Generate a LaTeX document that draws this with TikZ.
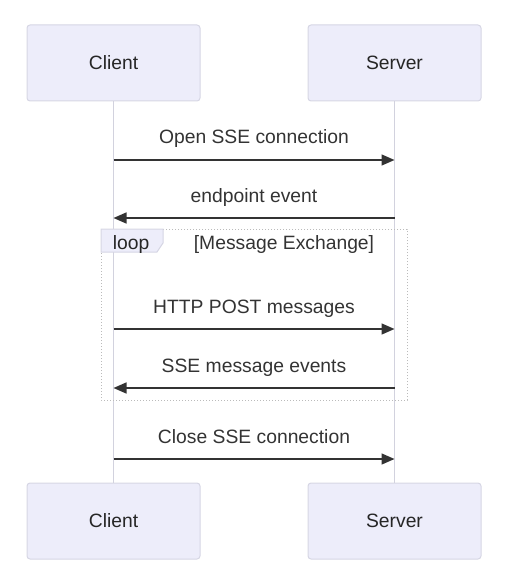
\documentclass[tikz,border=0pt]{standalone}
\usepackage{fontspec}
\setmainfont{Liberation Sans}
\usetikzlibrary{arrows.meta,positioning}

\definecolor{actorfill}{HTML}{EDEDFA}
\definecolor{actorline}{HTML}{D6D6E4}
\definecolor{lifeline}{HTML}{D2D2DE}
\definecolor{msgline}{HTML}{333333}
\definecolor{loopline}{HTML}{BBBBBB}

\begin{document}
\begin{tikzpicture}[
        x=1pt, y=-1pt,
        node distance=1mm,
        font=\fontsize{19.3}{23}\selectfont,
        actor/.style={
            rectangle,
            draw=actorline,
            fill=actorfill,
            line width=1pt,
            rounded corners=3pt,
            minimum width=173pt,
            minimum height=76pt,
            text=black!85,
        },
        life/.style={
            draw=lifeline,
            line width=1.5pt,
        },
        msg/.style={
            draw=msgline,
            line width=1.5pt,
            -{Triangle[length=13pt,width=11pt]},
        },
        lbl/.style={
            anchor=base,
            yshift=16pt,
            inner sep=0pt,
            text=msgline,
        },
        loopframe/.style={
            draw=loopline,
            line width=1pt,
            dotted,
        },
        looptag/.style={
            draw=actorline,
            fill=actorfill,
            line width=1pt,
        },
    ]
        \useasboundingbox (0,0) rectangle (528,585);

        \node [actor] (client) at (113.5,63) {Client};
        \node [actor, right=107pt of client] (server) {Server};
        \node [actor, below=381pt of client] (clientb) {Client};
        \node [actor, below=381pt of server] (serverb) {Server};

        \draw [life] (client.south) -- (clientb.north);
        \draw [life] (server.south) -- (serverb.north);

        % loop frame
        \draw [loopframe] (101,229) rectangle (407,400);
        \draw [looptag] (101,229) -- (163,229) -- (163,243) -- (157,252) -- (101,252) -- cycle;
        \node [anchor=base, inner sep=0pt, text=black!85] (looplbl) at (131,249) {loop};
        \node [anchor=base, inner sep=0pt, text=msgline] (loopcond) at (284,249) {[Message Exchange]};

        % messages
        \draw [msg] (client |- 0,160) -- node [lbl] (m1) {Open SSE connection} (server |- 0,160);
        \draw [msg] (server |- 0,218) -- node [lbl] (m2) {endpoint event} (client |- 0,218);
        \draw [msg] (client |- 0,329) -- node [lbl] (m3) {HTTP POST messages} (server |- 0,329);
        \draw [msg] (server |- 0,388) -- node [lbl] (m4) {SSE message events} (client |- 0,388);
        \draw [msg] (client |- 0,459) -- node [lbl] (m5) {Close SSE connection} (server |- 0,459);
    \end{tikzpicture}
\end{document}
